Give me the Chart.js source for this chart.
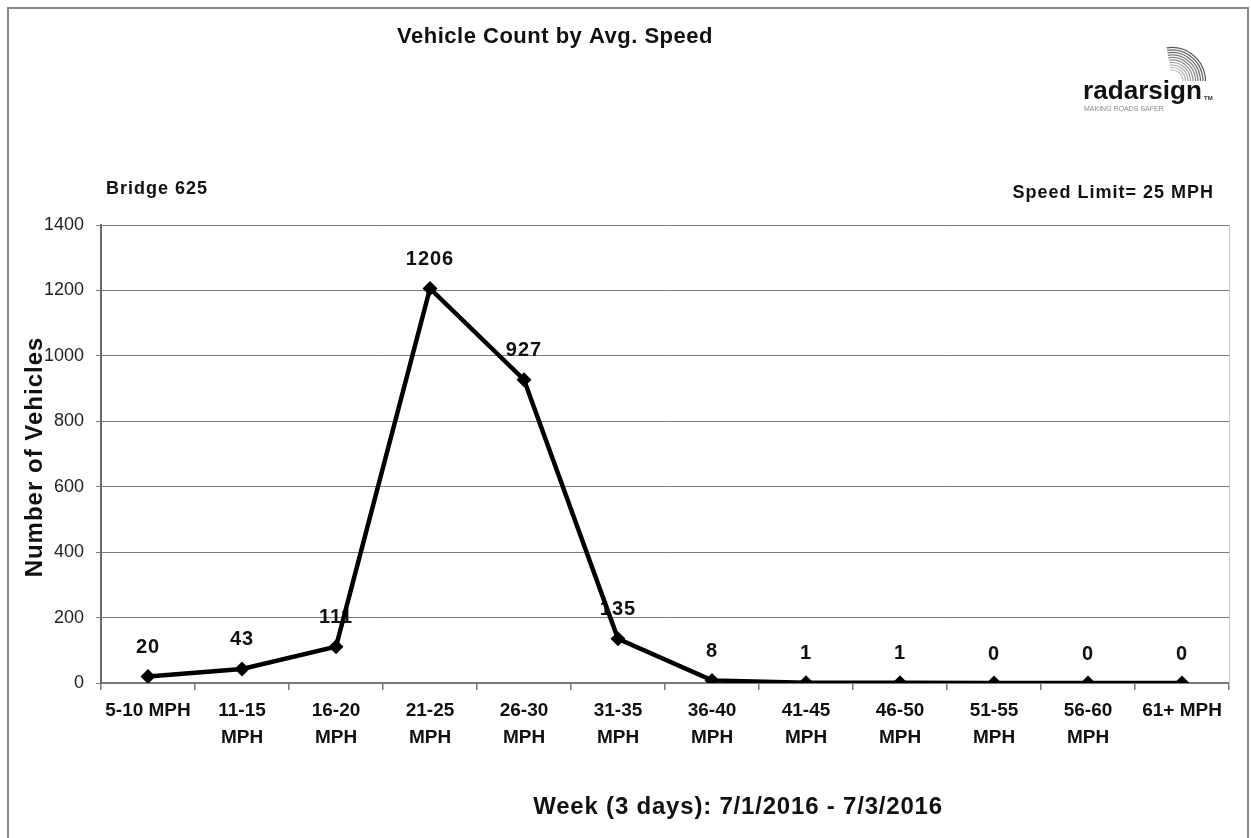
<!DOCTYPE html>
<html>
<head>
<meta charset="utf-8">
<script src="https://cdn.jsdelivr.net/npm/chart.js@4.4.1/dist/chart.umd.min.js"></script>
<style>
  body { margin: 0; background: #fff; }
  #wrap { width: 1251px; height: 838px; position: relative; }
</style>
</head>
<body>
<div id="wrap"><canvas id="speed-chart"></canvas></div>
<script>
// speed bins (x axis), vehicle counts, y ticks
const speed_bins = [
    ['5-10 MPH'], ['11-15', 'MPH'], ['16-20', 'MPH'], ['21-25', 'MPH'],
    ['26-30', 'MPH'], ['31-35', 'MPH'], ['36-40', 'MPH'], ['41-45', 'MPH'],
    ['46-50', 'MPH'], ['51-55', 'MPH'], ['56-60', 'MPH'], ['61+ MPH']
];
const vehicle_counts = [20, 43, 111, 1206, 927, 135, 8, 1, 1, 0, 0, 0];
const y_max = 1400;
const y_step = 200;

const chart_title = 'Vehicle Count by Avg. Speed';
const location_text = 'Bridge 625';
const limit_text = 'Speed Limit= 25 MPH';
const y_title = 'Number of Vehicles';
const x_title = 'Week (3 days): 7/1/2016 - 7/3/2016';

const FONT = '"Liberation Sans", Arial, sans-serif';

// point labels go under the line, like the original
const point_labels = {
    id: 'point_labels',
    beforeDatasetsDraw(chart) {
        let ctx = chart.ctx;
        let meta = chart.getDatasetMeta(0);
        ctx.save();
        ctx.font = 'bold 20px ' + FONT;
        ctx.letterSpacing = '1px';
        ctx.fillStyle = '#111';
        ctx.textAlign = 'center';
        ctx.textBaseline = 'middle';
        meta.data.forEach((pt, i) => {
            ctx.fillText(String(vehicle_counts[i]), pt.x, pt.y - 29);
        });
        ctx.restore();
    }
};

function draw_logo(ctx) {
    // radar arcs
    ctx.save();
    for (let i = 0; i < 10; i++) {
        let r = 11 + i * 2.5;
        ctx.beginPath();
        ctx.strokeStyle = 'rgba(50,50,50,' + (0.3 + i * 0.06) + ')';
        ctx.lineWidth = 1.2;
        ctx.arc(1172, 81, r, -Math.PI * 0.55, 0);
        ctx.stroke();
    }
    ctx.fillStyle = '#fff';
    ctx.fillRect(1150, 81, 60, 30);
    ctx.restore();

    ctx.save();
    ctx.fillStyle = '#111';
    ctx.font = 'bold 26px ' + FONT;
    ctx.textAlign = 'left';
    ctx.textBaseline = 'alphabetic';
    let w = ctx.measureText('radarsign').width;
    ctx.translate(1083, 99);
    ctx.scale(119 / w, 1);
    ctx.fillText('radarsign', 0, 0);
    ctx.restore();

    ctx.save();
    ctx.fillStyle = '#333';
    ctx.font = 'bold 6px ' + FONT;
    ctx.fillText('TM', 1204, 100);
    ctx.fillStyle = '#888';
    ctx.font = '7px ' + FONT;
    ctx.textBaseline = 'middle';
    ctx.fillText('MAKING ROADS SAFER', 1084, 109);
    ctx.restore();
}

const decorations = {
    id: 'decorations',
    afterDraw(chart) {
        let ctx = chart.ctx;
        let area = chart.chartArea;
        ctx.save();

        // frame round the whole picture
        ctx.strokeStyle = '#8a8a8a';
        ctx.lineWidth = 2;
        ctx.beginPath();
        ctx.moveTo(8, 838);
        ctx.lineTo(8, 8);
        ctx.lineTo(1248, 8);
        ctx.lineTo(1248, 838);
        ctx.stroke();

        // right edge of plot area
        ctx.strokeStyle = '#c8c8c8';
        ctx.lineWidth = 1;
        ctx.beginPath();
        ctx.moveTo(area.right + 0.5, area.top);
        ctx.lineTo(area.right + 0.5, area.bottom);
        ctx.stroke();

        ctx.fillStyle = '#111';
        ctx.textBaseline = 'middle';

        ctx.letterSpacing = '0.5px';
        ctx.font = 'bold 22px ' + FONT;
        ctx.textAlign = 'center';
        ctx.fillText(chart_title, 555, 37);

        ctx.letterSpacing = '1px';
        ctx.font = 'bold 18px ' + FONT;
        ctx.textAlign = 'left';
        ctx.fillText(location_text, 106, 189);

        ctx.textAlign = 'right';
        ctx.fillText(limit_text, 1214, 193);

        ctx.letterSpacing = '0.8px';
        ctx.font = 'bold 24px ' + FONT;
        ctx.textAlign = 'center';
        ctx.fillText(x_title, 738, 807);

        ctx.save();
        ctx.letterSpacing = '1px';
        ctx.translate(35, 457);
        ctx.rotate(-Math.PI / 2);
        ctx.font = 'bold 24px ' + FONT;
        ctx.fillText(y_title, 0, 0);
        ctx.restore();

        ctx.restore();
        draw_logo(ctx);
    }
};

const ctx = document.getElementById('speed-chart');
new Chart(ctx, {
    type: 'line',
    data: {
        labels: speed_bins,
        datasets: [{
            data: vehicle_counts,
            borderColor: '#000',
            backgroundColor: '#000',
            borderWidth: 4.5,
            tension: 0,
            pointStyle: 'rectRot',
            pointRadius: 7.5,
            pointBorderWidth: 0,
            pointBackgroundColor: '#000'
        }]
    },
    options: {
        responsive: true,
        maintainAspectRatio: false,
        animation: false,
        layout: {
            padding: { top: 225, right: 22, left: 0, bottom: 0 }
        },
        plugins: {
            legend: { display: false },
            tooltip: { enabled: false }
        },
        scales: {
            x: {
                offset: true,
                grid: {
                    offset: true,
                    drawOnChartArea: false,
                    drawTicks: true,
                    tickLength: 7,
                    color: '#777',
                    lineWidth: 1.5
                },
                border: { color: '#777', width: 1.5 },
                ticks: {
                    color: '#111',
                    font: { family: FONT, size: 19, weight: 'bold', lineHeight: 1.42 },
                    padding: 7,
                    maxRotation: 0,
                    autoSkip: false
                },
                afterFit(scale) { scale.height = 155; }
            },
            y: {
                min: 0,
                max: y_max,
                grid: {
                    color: '#7a7a7a',
                    lineWidth: 1,
                    tickLength: 5
                },
                border: { color: '#6a6a6a', width: 2 },
                ticks: {
                    stepSize: y_step,
                    color: '#222',
                    font: { family: FONT, size: 18 },
                    padding: 12,
                    callback: (v) => String(v)
                },
                afterFit(scale) { scale.width = 101; }
            }
        }
    },
    plugins: [point_labels, decorations]
});
</script>
</body>
</html>
